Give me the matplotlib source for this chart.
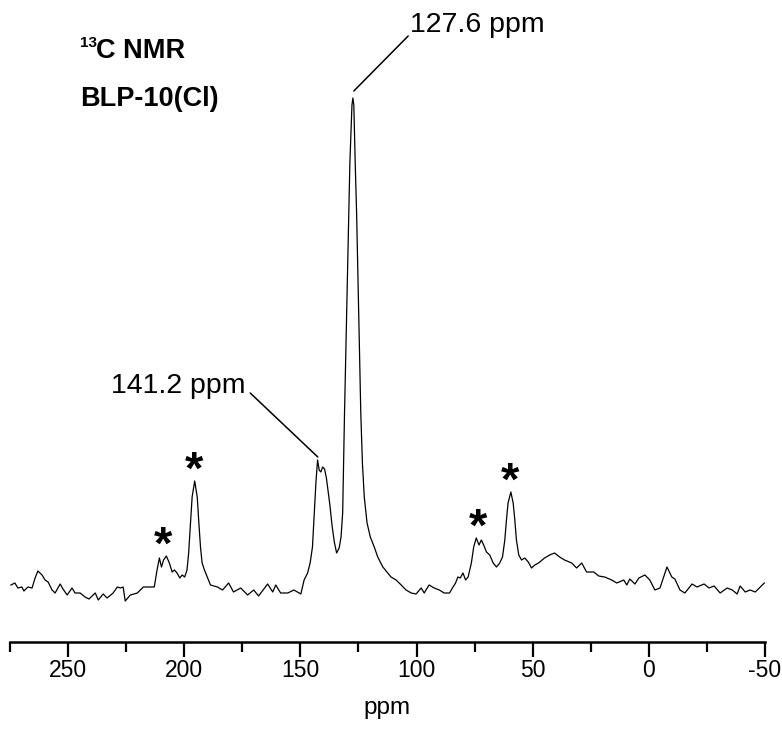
import numpy as np
import matplotlib
matplotlib.use("Agg")
import matplotlib.pyplot as plt

plt.rcParams['font.family'] = ['Liberation Sans', 'DejaVu Sans']

# ---- data ----
ppm = [274.6, 272.9, 271.6, 269.9, 269.0, 267.3, 265.5, 264.2, 263.0, 261.2,
       259.9, 258.6, 256.9, 255.6, 253.4, 252.2, 250.4, 248.3, 247.0, 244.8,
       242.7, 241.0, 238.3, 237.0, 234.9, 233.2, 230.6, 228.8, 227.5, 226.3,
       225.4, 223.2, 220.2, 217.6,
       214.6, 212.9, 211.7, 210.7, 209.8, 208.9, 207.7, 206.4, 205.2, 204.2,
       203.1, 201.9, 200.9, 199.8, 198.8, 198.1, 197.3, 196.6, 195.5, 194.4,
       193.7, 193.0, 192.3, 191.3, 190.1, 188.7,
       185.7, 183.5, 180.9, 178.8, 175.7, 172.7, 170.1, 168.0, 164.1, 161.9,
       160.6, 158.5, 155.4, 152.8, 149.8,
       148.4, 146.9, 145.8, 144.8, 144.0, 143.3, 142.6, 141.9, 141.2, 140.4,
       139.6, 138.8, 138.0, 137.3, 136.4, 135.4, 134.4, 133.3, 132.5, 131.8,
       131.4, 131.0, 130.4, 129.8, 129.2, 128.7, 128.2, 127.8, 127.4, 127.0,
       126.8, 126.4, 125.8, 125.2, 124.6, 124.0, 123.3, 122.5, 121.3, 119.9,
       118.2, 116.7, 114.5, 112.4,
       111.0, 108.8, 106.6, 104.5, 102.3, 100.2, 98.0, 96.7, 94.6, 92.4,
       90.2, 88.1,
       85.8, 84.3, 83.2, 82.2, 81.2, 80.0, 78.9, 77.8, 76.4, 75.4,
       74.3, 73.1, 72.1, 71.1, 69.9, 68.5, 67.0, 65.6, 64.2, 63.0,
       62.0, 61.3, 60.6, 59.4, 58.4, 57.7, 57.0, 56.0, 54.8, 53.4,
       51.9, 50.5, 49.1,
       47.5, 44.9, 42.7, 40.6, 38.4, 36.3, 33.2, 31.1, 28.9, 26.8,
       23.7, 21.6, 19.0, 16.0, 13.8, 10.8, 9.5, 8.2, 6.0, 4.3,
       1.7, -0.4, -2.6, -4.8, -7.8, -9.9, -11.2, -13.4, -15.5, -18.6,
       -20.7, -23.8, -25.9, -28.1, -30.7, -33.7, -35.9, -38.0, -39.3, -41.5,
       -43.6, -45.8, -48.0, -49.7]
intensity = [15, 17, 12, 13, 9, 13, 12, 22, 29, 25,
             20, 18, 10, 7, 16, 11, 5, 12, 7, 7,
             3, 1, 7, 0, 6, 2, 7, 13, 12, 13,
             -1, 5, 7, 13,
             13, 13, 30, 42, 33, 40, 44, 37, 28, 30,
             27, 22, 25, 23, 30, 47, 77, 103, 119, 103,
             77, 53, 37, 30, 23, 15,
             13, 10, 17, 8, 12, 5, 10, 4, 16, 8,
             15, 7, 7, 10, 6,
             20, 27, 37, 53, 87, 118, 140, 130, 128, 133,
             131, 122, 108, 95, 75, 58, 47, 52, 63, 87,
             137, 187, 253, 320, 387, 437, 470, 495, 502, 495,
             475, 437, 387, 320, 253, 187, 137, 103, 77, 63,
             53, 43, 33, 27,
             23, 20, 15, 10, 7, 6, 12, 7, 15, 12,
             10, 7,
             7, 13, 17, 23, 22, 27, 20, 23, 37, 53,
             62, 55, 60, 55, 48, 45, 37, 33, 37, 43,
             60, 80, 97, 108, 97, 80, 60, 45, 40, 42,
             38, 32, 35,
             37, 42, 45, 47, 43, 40, 37, 32, 37, 28,
             28, 24, 23, 20, 17, 20, 15, 21, 16, 22,
             25, 20, 10, 12, 33, 23, 21, 10, 7, 16,
             13, 16, 12, 14, 7, 12, 10, 6, 14, 8,
             10, 8, 13, 17]

x_ticks = [250, 200, 150, 100, 50, 0, -50]
x_tick_labels = ["250", "200", "150", "100", "50", "0", "-50"]
x_label = "ppm"
labelled_peaks = [127.6, 141.2]
sideband_peaks = [209.0, 195.6, 73.4, 59.6]

W, H = 782, 734
fig = plt.figure(figsize=(W / 100, H / 100), dpi=100)
ax = fig.add_axes([10 / W, (H - 642) / H, 755 / W, (642 - 20) / H])

ax.plot(ppm, intensity, color='black', lw=0.9)
ax.set_xlim(275, -50)
ax.set_ylim(-42, 580)

for s in ['top', 'right', 'left']:
    ax.spines[s].set_visible(False)
ax.spines['bottom'].set_linewidth(1.8)
ax.set_yticks([])
ax.set_xticks(x_ticks)
ax.set_xticklabels(x_tick_labels, fontsize=16.5)
ax.set_xticks(np.arange(275, -51, -25), minor=True)
ax.tick_params(axis='x', which='major', direction='out', length=11, width=1.6, pad=1)
ax.tick_params(axis='x', which='minor', direction='out', length=7, width=1.6)
ax.set_xlabel(x_label, fontsize=17.5, labelpad=11)

# labelled peaks
ax.annotate('', xy=(127.0, 509), xytext=(103.6, 564),
            arrowprops=dict(arrowstyle='-', lw=1.1, color='black', shrinkA=0, shrinkB=0))
ax.text(103.0, 575, f"{labelled_peaks[0]} ppm", fontsize=20.5, ha='left', va='center')

ax.annotate('', xy=(142.5, 143), xytext=(171.6, 207),
            arrowprops=dict(arrowstyle='-', lw=1.1, color='black', shrinkA=0, shrinkB=0))
ax.text(173.6, 214, f"{labelled_peaks[1]} ppm", fontsize=20.5, ha='right', va='center')

# spinning sidebands
ppm_arr = np.array(ppm)
int_arr = np.array(intensity)
for p in sideband_peaks:
    m = np.abs(ppm_arr - p) < 2.5
    top = int_arr[m].max()
    ax.text(p, top - 3, '*', fontsize=34, fontweight='bold', ha='center', va='baseline')

# title text
fig.text(80 / W, 1 - 50 / H, '13', fontsize=11, fontweight='bold', ha='left', va='bottom')
fig.text(96 / W, 1 - 58 / H, 'C NMR', fontsize=19.5, fontweight='bold', ha='left', va='baseline')
fig.text(80 / W, 1 - 106 / H, 'BLP-10(Cl)', fontsize=19.5, fontweight='bold', ha='left', va='baseline')

fig.savefig('out.png', dpi=100)
